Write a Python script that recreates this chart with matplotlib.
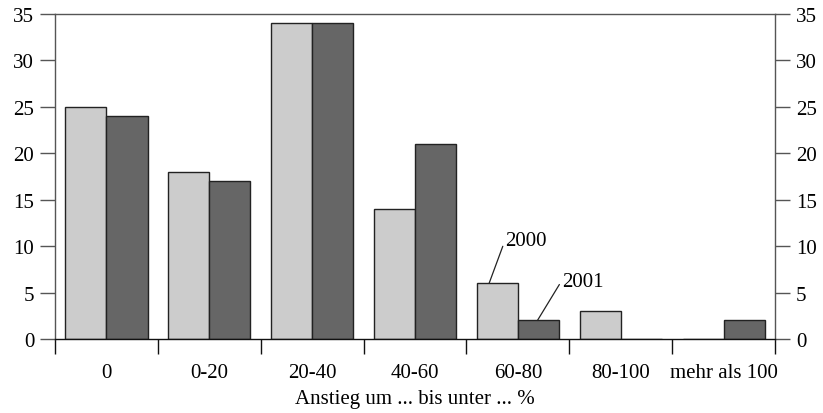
import numpy as np
import matplotlib.pyplot as plt

plt.rcParams['font.family'] = ['Liberation Serif', 'DejaVu Serif']

# Data
categories = ["0", "0-20", "20-40", "40-60", "60-80", "80-100", "mehr als 100"]
values_2000 = [25, 18, 34, 14, 6, 3, 0]
values_2001 = [24, 17, 34, 21, 2, 0, 2]

fs = 15

fig = plt.figure(figsize=(8.23, 4.14), dpi=100)
ax = fig.add_axes([0.0668, 0.1787, 0.875, 0.785])

x = np.arange(len(categories)) + 0.5
width = 0.4
ax.bar(x - width/2, values_2000, width, color='#cccccc', edgecolor='#222222', linewidth=1)
ax.bar(x + width/2, values_2001, width, color='#666666', edgecolor='#222222', linewidth=1)

ax.set_xlim(0, len(categories))
ax.set_ylim(0, 35)

line_col = '#555555'
for s in ax.spines.values():
    s.set_color(line_col)
    s.set_linewidth(1)
ax.spines['bottom'].set_color('#111111')

# y ticks on both sides, outward
ax.set_yticks(range(0, 36, 5))
ax.tick_params(axis='y', which='both', direction='out', length=11, width=1,
               color=line_col, left=True, right=True, labelleft=True, labelright=True,
               labelsize=fs, pad=4)

# x ticks at category boundaries, labels centred
ax.set_xticks(np.arange(len(categories) + 1))
ax.set_xticklabels([])
ax.set_xticks(x, minor=True)
ax.set_xticklabels(categories, minor=True)
ax.tick_params(axis='x', which='major', direction='out', length=11, width=1, color='#111111')
ax.tick_params(axis='x', which='minor', length=0, pad=17, labelsize=fs)

ax.set_xlabel("Anstieg um ... bis unter ... %", fontsize=fs, labelpad=5)

# Annotations
ax.annotate("2000", xy=(4.22, 6), xytext=(4.38, 10.6), fontsize=fs, va='center', ha='left',
            arrowprops=dict(arrowstyle='-', color='#222222', lw=0.9, shrinkA=0, shrinkB=0,
                            relpos=(-0.05, 0.3)))
ax.annotate("2001", xy=(4.69, 2), xytext=(4.93, 6.2), fontsize=fs, va='center', ha='left',
            arrowprops=dict(arrowstyle='-', color='#222222', lw=0.9, shrinkA=0, shrinkB=0,
                            relpos=(-0.05, 0.4)))

plt.savefig("out.png", dpi=100)
